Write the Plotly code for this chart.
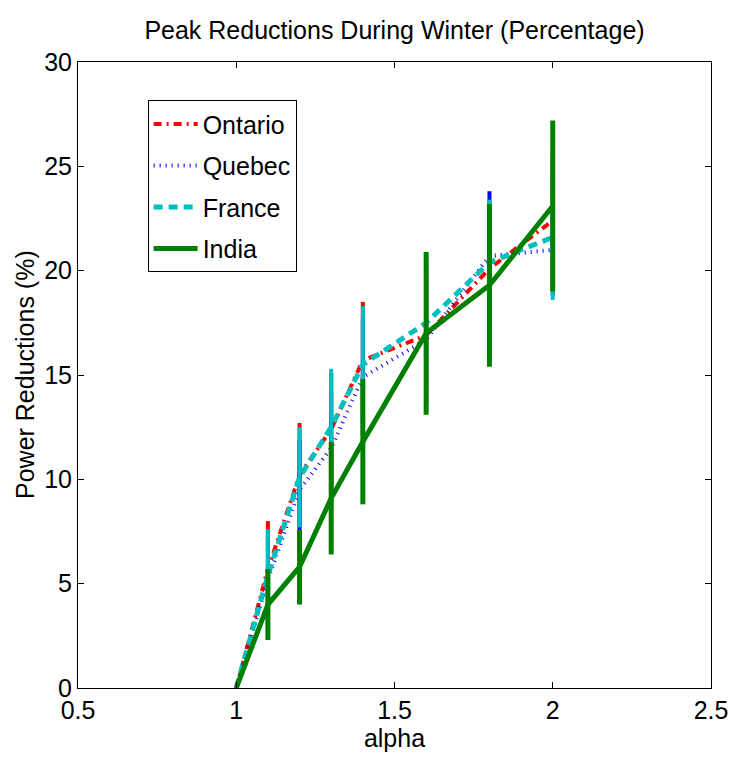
import plotly.graph_objects as go

alpha = [1.0, 1.1, 1.2, 1.3, 1.4, 1.6, 1.8, 2.0]
ontario = [0, 5.7, 10.2, 12.4, 15.7, 16.9, 20.1, 22.4]
ontario_err = [0, 2.3, 2.5, 2.7, 2.8, 3.2, 3.0, 3.2]
quebec = [0, 5.2, 9.5, 11.5, 14.9, 16.7, 20.7, 21.0]
quebec_err = [0, 2.3, 2.4, 2.7, 2.8, 3.0, 3.1, 2.2]
france = [0, 5.4, 10.1, 12.5, 15.5, 17.5, 20.4, 21.6]
france_err = [0, 2.2, 2.4, 2.8, 2.8, 3.2, 3.0, 3.0]
india = [0, 4.0, 5.8, 9.1, 11.8, 17.0, 19.3, 23.1]
india_err = [0, 1.7, 1.8, 2.7, 3.0, 3.9, 3.9, 4.1]

FONT = "Liberation Sans, Arial, sans-serif"

series = [
    ("Ontario", ontario, ontario_err, "#ff0000", "8px,5px,2px,5px", 4, 4),
    ("Quebec", quebec, quebec_err, "#0000ff", "1px,5px", 4, 4),
    ("France", france, france_err, "#00bfbf", "9px,6px", 5, 4),
    ("India", india, india_err, "#008000", "solid", 5, 5),
]

fig = go.Figure()
for name, vals, errs, color, dash, lw, ew in series:
    fig.add_trace(go.Scatter(
        x=alpha, y=vals, name=name, mode="lines",
        line=dict(color=color, width=lw, dash=dash),
        error_y=dict(type="data", array=errs, visible=True, color=color,
                     thickness=ew, width=0),
        legendgroup=name,
    ))

axis_common = dict(
    showline=True, linecolor="black", linewidth=1, mirror="ticks",
    ticks="inside", ticklen=6, tickcolor="black", showgrid=False,
    zeroline=False, automargin=False,
    tickfont=dict(family=FONT, size=25, color="black"),
)

fig.update_layout(
    width=733, height=763,
    margin=dict(l=78, r=22, t=62, b=75),
    paper_bgcolor="white", plot_bgcolor="white",
    title=dict(text="Peak Reductions During Winter (Percentage)",
               font=dict(family=FONT, size=25, color="black"),
               x=0.5, xref="paper", xanchor="center",
               y=1 - 30 / 763, yref="container", yanchor="middle"),
    xaxis=dict(range=[0.5, 2.5], tickvals=[0.5, 1, 1.5, 2, 2.5],
               ticktext=["0.5", "1", "1.5", "2", "2.5"],
               title=dict(text="alpha", font=dict(family=FONT, size=25, color="black"), standoff=4),
               **axis_common),
    yaxis=dict(range=[0, 30], tickvals=[0, 5, 10, 15, 20, 25, 30],
               **axis_common),
    annotations=[dict(text="Power Reductions (%)", textangle=-90,
                      xref="paper", yref="paper", x=(25 - 78) / 633, y=0.5,
                      xanchor="center", yanchor="middle", showarrow=False,
                      font=dict(family=FONT, size=25, color="black"))],
    legend=dict(x=0.11, y=0.939, xanchor="left", yanchor="top",
                bgcolor="white", bordercolor="black", borderwidth=1,
                font=dict(family=FONT, size=25, color="black"),
                tracegroupgap=6, itemwidth=44),
    showlegend=True,
)

fig.write_html("out.html")
